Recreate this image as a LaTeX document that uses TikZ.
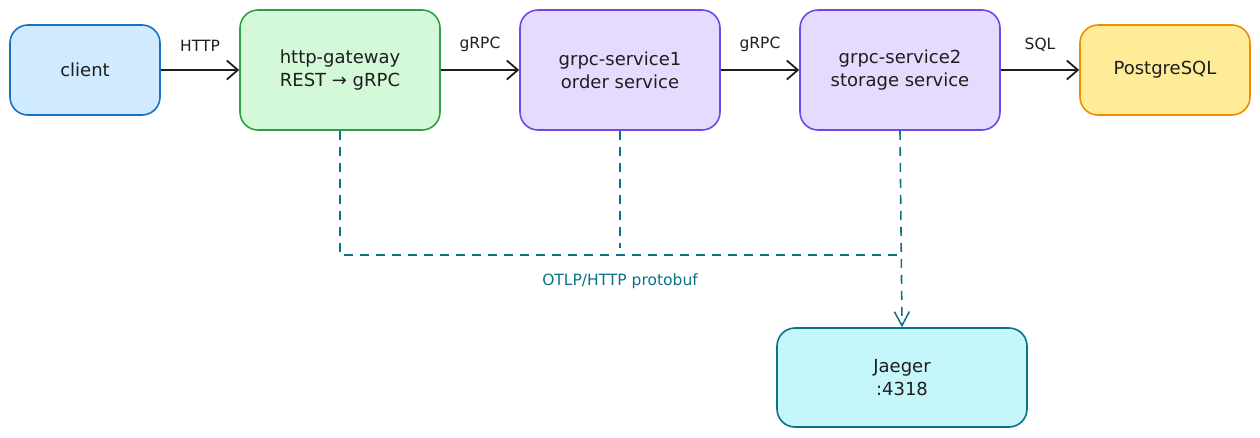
\documentclass[tikz,border=0pt]{standalone}
\usepackage{fontspec}
\setmainfont{DejaVu Sans}
\usetikzlibrary{arrows.meta}
\definecolor{cliF}{HTML}{D0EBFF}\definecolor{cliD}{HTML}{1971C2}
\definecolor{gwF}{HTML}{D3F9D8}\definecolor{gwD}{HTML}{2F9E44}
\definecolor{svF}{HTML}{E5DBFF}\definecolor{svD}{HTML}{7048E8}
\definecolor{pgF}{HTML}{FFEC99}\definecolor{pgD}{HTML}{F08C00}
\definecolor{jgF}{HTML}{C5F6FA}\definecolor{jgD}{HTML}{0B7285}
\definecolor{ink}{HTML}{1E1E1E}
\tikzset{
  box/.style={rounded corners=18pt, line width=1.6pt, align=center, font=\fontsize{18}{23}\selectfont, text=ink, inner sep=0pt},
  flow/.style={line width=2.2pt, draw=ink, -{Straight Barb[length=11pt,width=19pt,line width=1.8pt]}},
  trace/.style={line width=1.6pt, draw=jgD, dash pattern=on 9pt off 7pt},
  lbl/.style={font=\fontsize{15.5}{18}\selectfont, text=ink},
}
\begin{document}
\begin{tikzpicture}[x=1pt,y=-1pt]
\useasboundingbox (0,0) rectangle (1260,437);
\node[box, fill=cliF, draw=cliD, minimum width=150pt, minimum height=90pt] (client) at (85,70) {client};
\node[box, fill=gwF, draw=gwD, minimum width=200pt, minimum height=120pt] (gw) at (340,70) {http-gateway\\REST → gRPC};
\node[box, fill=svF, draw=svD, minimum width=200pt, minimum height=120pt] (s1) at (620,70) {grpc-service1\\order service};
\node[box, fill=svF, draw=svD, minimum width=200pt, minimum height=120pt] (s2) at (900,70) {grpc-service2\\storage service};
\node[box, fill=pgF, draw=pgD, minimum width=170pt, minimum height=90pt] (pg) at (1165,70) {PostgreSQL};
\node[box, fill=jgF, draw=jgD, minimum width=250pt, minimum height=99pt] (jg) at (902,377.5) {Jaeger\\:4318};

\draw[flow] (client.east) -- (gw.west) node[lbl, midway, above=14pt] {HTTP};
\draw[flow] (gw.east) -- (s1.west) node[lbl, midway, above=14pt] {gRPC};
\draw[flow] (s1.east) -- (s2.west) node[lbl, midway, above=14pt] {gRPC};
\draw[flow] (s2.east) -- (pg.west) node[lbl, midway, above=14pt] {SQL};

\coordinate (c1) at (340,255);
\coordinate (c2) at (620,248);
\coordinate (c3) at (902,255);
\draw[trace] (gw.south) -- (c1) -- (c3);
\draw[trace] (s1.south) -- (c2);
\draw[trace, -{Straight Barb[length=14pt,width=15pt,line width=1.5pt]}] (s2.south) -- (jg.north);
\node[lbl, text=jgD] (otlp) at (620,281) {OTLP/HTTP protobuf};
\end{tikzpicture}
\end{document}
